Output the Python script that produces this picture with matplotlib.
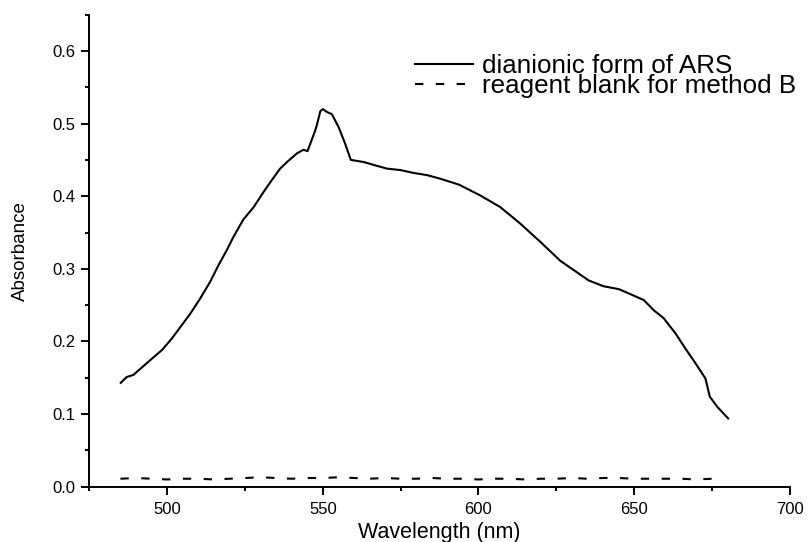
import numpy as np
import matplotlib.pyplot as plt
from matplotlib.ticker import MultipleLocator

plt.rcParams['font.family'] = ['Liberation Sans', 'DejaVu Sans']

# dianionic form of ARS
wl_ars = [485.1, 487.0, 489.2, 491.3, 494.5, 498.3, 501.5, 503.6, 507.4, 510.6,
          513.8, 516.5, 519.2, 521.3, 524.5, 527.8, 531.0, 533.6, 536.3, 538.5,
          541.7, 543.8, 545.1, 547.6, 548.1, 549.2, 550.0, 551.3, 552.9, 555.1,
          557.2, 559.0, 563.2, 566.4, 570.6, 574.9, 579.2, 583.5, 587.8, 593.7,
          600.6, 607.0, 613.5, 619.9, 626.3, 631.7, 635.4, 640.2, 645.1, 649.4,
          653.1, 656.3, 659.5, 663.3, 666.5, 669.7, 672.9, 674.3, 676.7, 680.2]
abs_ars = [0.143, 0.151, 0.154, 0.162, 0.174, 0.188, 0.204, 0.216, 0.238, 0.259,
           0.282, 0.305, 0.326, 0.344, 0.368, 0.385, 0.406, 0.422, 0.438, 0.447,
           0.459, 0.464, 0.462, 0.491, 0.498, 0.517, 0.520, 0.516, 0.513, 0.495,
           0.472, 0.450, 0.447, 0.443, 0.438, 0.436, 0.432, 0.429, 0.424, 0.416,
           0.401, 0.385, 0.362, 0.337, 0.311, 0.295, 0.284, 0.276, 0.272, 0.264,
           0.257, 0.243, 0.232, 0.211, 0.190, 0.170, 0.149, 0.124, 0.110, 0.094]

# reagent blank for method B
wl_blank = [485, 490, 495, 500, 505, 510, 515, 520, 525, 530, 535, 540, 545,
            550, 555, 560, 565, 570, 575, 580, 585, 590, 595, 600, 605, 610,
            615, 620, 625, 630, 635, 640, 645, 650, 655, 660, 665, 670, 675]
abs_blank = [0.011, 0.012, 0.011, 0.010, 0.011, 0.011, 0.010, 0.011, 0.012,
             0.013, 0.012, 0.011, 0.012, 0.012, 0.013, 0.012, 0.011, 0.012,
             0.011, 0.011, 0.012, 0.011, 0.011, 0.010, 0.011, 0.011, 0.010,
             0.011, 0.011, 0.012, 0.011, 0.012, 0.012, 0.011, 0.011, 0.011,
             0.011, 0.010, 0.011]

fig = plt.figure(figsize=(8.08, 5.42), dpi=100)
ax = fig.add_axes([0.1105, 0.102, 0.867, 0.871])

ax.plot(wl_ars, abs_ars, color='black', lw=1.5, label='dianionic form of ARS')
ax.plot(wl_blank, abs_blank, color='black', lw=1.5, ls=(0, (4, 6)),
        label='reagent blank for method B')

ax.set_xlim(475, 700)
ax.set_ylim(0, 0.65)
ax.xaxis.set_minor_locator(MultipleLocator(25))
ax.yaxis.set_minor_locator(MultipleLocator(0.05))
ax.set_yticks([0.0, 0.1, 0.2, 0.3, 0.4, 0.5, 0.6])
ax.set_xticks([500, 550, 600, 650, 700])

for side in ['top', 'right']:
    ax.spines[side].set_visible(False)
for side in ['left', 'bottom']:
    ax.spines[side].set_linewidth(1.4)

ax.tick_params(which='major', direction='out', length=5.8, width=1.4,
               labelsize=12)
ax.tick_params(axis='x', which='major', pad=5)
ax.tick_params(axis='y', which='major', pad=4)
ax.tick_params(which='minor', direction='out', length=2.9, width=1.4)

ax.set_xlabel('Wavelength (nm)', fontsize=15.5, labelpad=4)
ax.set_ylabel('Absorbance', fontsize=13.5, labelpad=17)

ax.legend(loc='upper left', bbox_to_anchor=(0.465, 0.917), frameon=False,
          fontsize=18.7, handlelength=2.23, handletextpad=0.33,
          labelspacing=-0.15, borderpad=0, borderaxespad=0)

fig.savefig('out.png', dpi=100)
